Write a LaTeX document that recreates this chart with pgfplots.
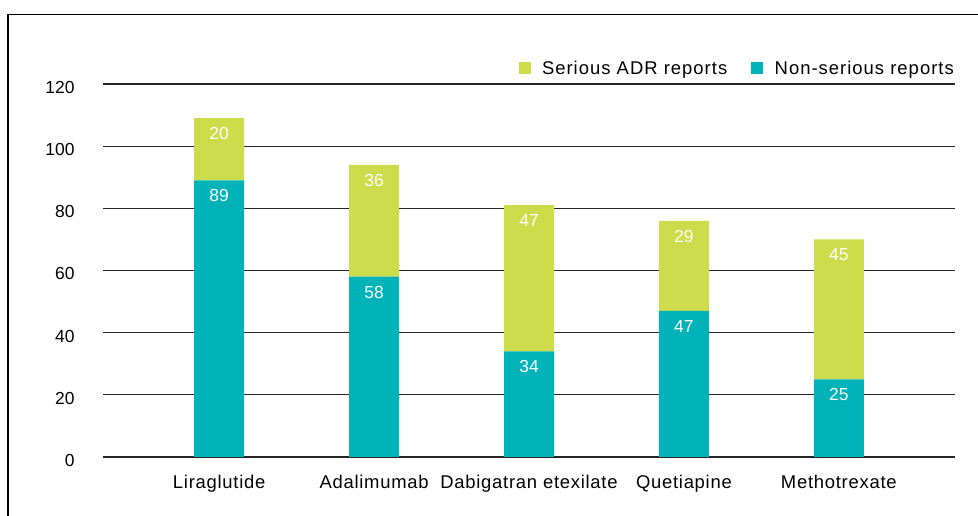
\documentclass[border=0pt]{standalone}
\usepackage{fontspec}
\setmainfont{Liberation Sans}
\newfontfamily\lblfont[LetterSpace=4]{Liberation Sans}
\newfontfamily\legfont[LetterSpace=5.5]{Liberation Sans}
\usepackage{pgfplots}
\pgfplotsset{compat=1.18}
\definecolor{teal1}{RGB}{0,179,185}
\definecolor{lime1}{RGB}{204,220,74}
\pgfplotsset{commonframe/.style={
  at={(103bp,59bp)}, anchor=south west,
  scale only axis, width=852bp, height=373bp,
  xmin=-0.75, xmax=4.75, ymin=0, ymax=120}}
\begin{document}
\begin{tikzpicture}
\begin{axis}[
  commonframe,
  ybar stacked, bar width=50bp,
  xtick={0,1,2,3,4},
  xticklabels={Liraglutide, Adalimumab, Dabigatran etexilate, Quetiapine, Methotrexate},
  ytick={0,20,...,120},
  ymajorgrids, grid style={black!85, line width=1.2bp},
  axis line style={draw=none},
  major tick length=0pt,
  /pgf/number format/assume math mode=true,
  tick label style={font=\fontsize{17.5}{20}\selectfont},
  xticklabel style={font=\lblfont\fontsize{18.5}{22}\selectfont, yshift=-15bp},
  yticklabel style={xshift=-25bp, yshift=-3.5bp},
  legend style={at={(rel axis cs:1,1)}, anchor=south east, draw=none, fill=none,
    legend columns=2, font=\legfont\fontsize{18.5}{22}\selectfont, yshift=4bp, xshift=4bp,
    /tikz/every even column/.append style={column sep=22bp}},
  reverse legend,
  legend image code/.code={\fill[#1] (0bp,-6bp) rectangle (12bp,6bp); \path (21.5bp,0bp);},
]
\addplot[fill=teal1, draw=none] coordinates {(0,89) (1,58) (2,34) (3,47) (4,25)};
\addplot[fill=lime1, draw=none] coordinates {(0,20) (1,36) (2,47) (3,29) (4,45)};
\legend{Non-serious reports, Serious ADR reports}
\end{axis}
% overlay axis for the value labels at the top of each segment
\begin{axis}[
  commonframe, hide axis,
  nodes near coords, point meta=explicit symbolic,
  every node near coord/.append style={anchor=center, yshift=-15.5bp, text=white,
    font=\fontsize{17.5}{20}\selectfont},
]
\addplot[only marks, mark=none] coordinates {(0,89)[89] (1,58)[58] (2,34)[34] (3,47)[47] (4,25)[25]};
\addplot[only marks, mark=none] coordinates {(0,109)[20] (1,94)[36] (2,81)[47] (3,76)[29] (4,70)[45]};
\end{axis}
\draw[line width=1.5bp] (8bp,0bp) -- (8bp,501.5bp) -- (978bp,501.5bp);
\pgfresetboundingbox
\path[use as bounding box] (0bp,0bp) rectangle (978bp,516bp);
\end{tikzpicture}
\end{document}
